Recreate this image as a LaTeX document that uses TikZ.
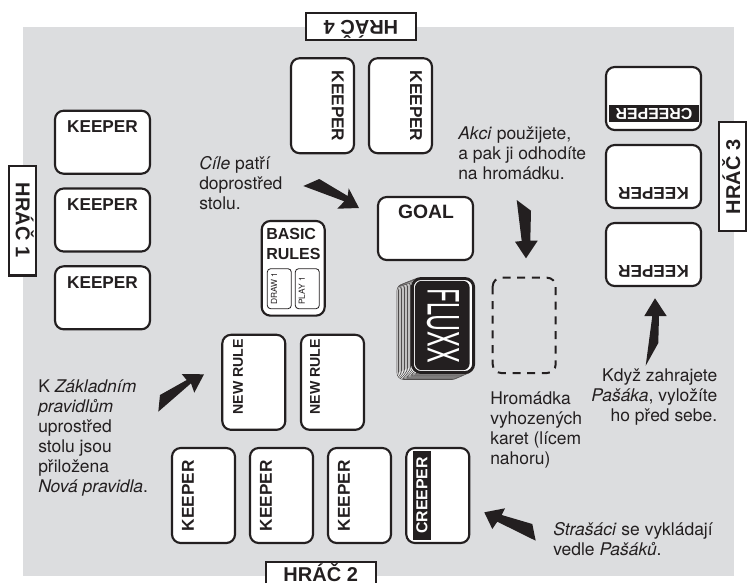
\documentclass[tikz,border=0pt]{standalone}
\usepackage{fontspec}
\usepackage{graphicx}
\setmainfont{TeX Gyre Heros}[BoldFont={Liberation Sans Bold}]
\definecolor{tbl}{HTML}{DCDDDF}
\definecolor{ink}{HTML}{231F20}
\tikzset{
  cardbase/.style={draw=ink,fill=white,line width=1.6pt,rounded corners=6.5pt,inner sep=0pt},
  cardh/.style={cardbase,minimum width=71.25pt,minimum height=47.25pt},
  cardv/.style={cardbase,minimum width=47.25pt,minimum height=71.25pt},
  lbl/.style={inner sep=0pt,text=ink,font=\bfseries\fontsize{12.9}{12.9}\selectfont},
  nrl/.style={inner sep=0pt,text=ink,font=\bfseries\fontsize{10.6}{10.6}\selectfont,rotate=90},
  crp/.style={inner sep=0pt,text=white,font=\bfseries\fontsize{11.9}{11.9}\selectfont},
  player/.style={draw=ink,fill=white,line width=1.6pt,inner sep=0pt},
  plbl/.style={inner sep=0pt,text=ink,anchor=base,font=\bfseries\fontsize{15}{15}\selectfont},
  note/.style={inner sep=0pt,text=ink,font=\fontsize{13.1}{15}\selectfont,align=left},
  pointer/.style={fill=ink,draw=none},
  mini/.style={draw=ink,fill=white,line width=.6pt,rounded corners=2.5pt,minimum width=18pt,minimum height=30pt,inner sep=0pt},
  minit/.style={inner sep=0pt,text=ink,font=\fontsize{6.3}{6.3}\selectfont,rotate=90,anchor=west}
}
\begin{document}
\begin{tikzpicture}[x=0.75pt,y=-0.75pt]
\useasboundingbox (0,0) rectangle (751,583);
\fill[tbl] (23,27) rectangle (734,576);

% players
\node[player,minimum width=20pt,minimum height=82pt] (p1) at (22.7,220.8) {};
\node[plbl,rotate=-90] (p1t) at (16,220) {HRÁČ 1};
\node[player,minimum width=82.5pt,minimum height=20pt] (p4) at (361,26.7) {};
\node[plbl,rotate=180] (p4t) at (361,20) {HRÁČ 4};
\node[player,minimum width=20pt,minimum height=82pt] (p3) at (732.5,176.5) {};
\node[plbl,rotate=90] (p3t) at (740,177) {HRÁČ 3};
\draw[player,fill=white] (266,583) -- (266,562) -- (376,562) -- (376,583);
\node[plbl] (p2t) at (320.7,581.5) {HRÁČ 2};

% player 1
\foreach \n/\y in {a/142.2,b/220,c/297.8}{
  \node[cardh] (l\n) at (102.5,\y) {};
}
\node[lbl] at (102.5,126.7) {KEEPER};
\node[lbl] at (102.5,204.3) {KEEPER};
\node[lbl] at (102.5,282.7) {KEEPER};

% player 4
\node[cardv] (t1) at (322.5,105.7) {};
\node[cardv] (t2) at (400.5,105.7) {};
\node[lbl,rotate=-90] at (337.7,106) {KEEPER};
\node[lbl,rotate=-90] at (416,106) {KEEPER};

% player 3
\node[cardh] (r1) at (653.5,98.5) {};
\node[cardh] (r2) at (653.5,176.5) {};
\node[cardh] (r3) at (653.5,254.5) {};
\fill[ink] (609,105) rectangle (699,122);
\node[crp,rotate=180] at (654,113.5) {CREEPER};
\node[lbl,rotate=180] at (653.5,193.3) {KEEPER};
\node[lbl,rotate=180] at (653.5,271.7) {KEEPER};

% player 2
\node[cardv] (b1) at (203.5,495.5) {};
\node[cardv] (b2) at (281.5,495.5) {};
\node[cardv] (b3) at (359.5,495.5) {};
\node[cardv] (b4) at (437.8,495.5) {};
\node[lbl,rotate=90] at (188,495.7) {KEEPER};
\node[lbl,rotate=90] at (266,495.7) {KEEPER};
\node[lbl,rotate=90] at (344,495.7) {KEEPER};
\fill[ink] (412.7,450.7) rectangle (431,540);
\node[crp,rotate=90] at (421.8,495.5) {CREEPER};

% new rules
\node[cardv] (n1) at (253.8,382.3) {};
\node[cardv] (n2) at (332.5,382.3) {};
\node[nrl] at (238,376.7) {NEW RULE};
\node[nrl] at (315,376.7) {NEW RULE};

% goal
\node[cardh] (goal) at (425.5,228.5) {};
\node[lbl,font=\bfseries\fontsize{14.5}{14.5}\selectfont] at (426,211.7) {GOAL};

% basic rules
\node[cardbase,minimum width=47.25pt,minimum height=71pt] (basic) at (293.2,268.3) {};
\node[lbl,font=\bfseries\fontsize{12}{12}\selectfont,anchor=west] at (266,234.3) {BASIC};
\node[lbl,font=\bfseries\fontsize{12}{12}\selectfont,anchor=west] at (266,254) {RULES};
\node[mini] (m1) at (279.3,288.7) {};
\node[mini] (m2) at (307.3,288.7) {};
\node[minit] at (274,305) {DRAW 1};
\node[minit] at (301.7,305) {PLAY 1};

% fluxx deck
\foreach \i in {10,9,...,1}{
  \draw[ink!80,fill=white,line width=.45pt,rounded corners=5pt]
    ({412-1.5*\i},{278+.6*\i}) rectangle ({474-1.5*\i},{373+.65*\i});
}
\node[cardbase,line width=2.2pt,minimum width=46pt,minimum height=70.5pt] (deck) at (443,325.5) {};
\node[fill=ink,rounded corners=5pt,minimum width=41pt,minimum height=67pt,inner sep=0pt] (back) at (442.3,325.5) {};
\node[rotate=-90,inner sep=0pt,text=white,font=\fontsize{17.5}{17.5}\selectfont] (fluxx) at (443,325.5) {\scalebox{1}[1.85]{FLUXX}};

% discard
\draw[ink,line width=1.5pt,dash pattern=on 6pt off 5pt,rounded corners=6.5pt] (492.7,277.7) rectangle (555.7,373);

% pointers
\fill[pointer] (303.3,186) -- (319.3,179) -- (347.7,196) -- (348.7,188.3) -- (359,208) -- (337.3,208.7) -- (344.3,201.3) -- cycle;
\fill[pointer] (516.7,200) -- (531,210.7) -- (530.3,240.7) -- (537.7,240.7) -- (526,258.3) -- (515,241.7) -- (521.7,241) -- cycle;
\fill[pointer] (655,298.3) -- (666.7,316) -- (659,316) -- (658.3,343) -- (645.7,365.7) -- (652.3,316) -- (644.3,316) -- cycle;
\fill[pointer] (484.3,512.3) -- (505,508.3) -- (501.7,515) -- (532.3,524) -- (535.7,540.7) -- (497.3,521.7) -- (492.3,529) -- cycle;
\fill[pointer] (204,374.3) -- (194.3,392.7) -- (191,383.3) -- (158.3,411.7) -- (160,395) -- (186.7,380) -- (181.7,374) -- cycle;

% notes
\node[note,anchor=north west] (n-cile) at (199,156) {\textit{Cíle} patří\\doprostřed\\stolu.};
\node[note,anchor=north west] (n-akci) at (458,126) {\textit{Akci} použijete,\\a pak ji odhodíte\\na hromádku.};
\node[note,anchor=north west] (n-zakl) at (38,379) {K \textit{Základním}\\\textit{pravidlům}\\uprostřed\\stolu jsou\\přiložena\\\textit{Nová pravidla}.};
\node[note,anchor=north west] (n-hrom) at (490,391) {Hromádka\\vyhozených\\karet (lícem\\nahoru)};
\node[note,anchor=north east,align=right] (n-kdyz) at (717.5,368) {Když zahrajete\\\textit{Pašáka}, vyložíte\\ho před sebe.};
\node[note,anchor=north west] (n-stras) at (553,522) {\textit{Strašáci} se vykládají\\vedle \textit{Pašáků}.};
\end{tikzpicture}
\end{document}
